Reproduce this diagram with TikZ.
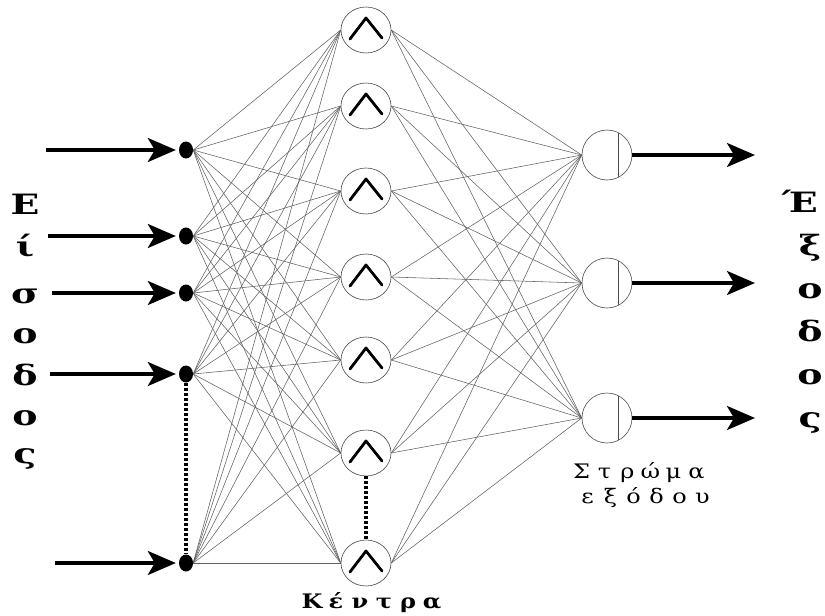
\documentclass[tikz,border=0pt]{standalone}
\usepackage{fontspec}
\usepackage{graphicx}
\setmainfont{DejaVu Serif}
\newfontfamily\slabfam{DejaVu Serif}
\usetikzlibrary{arrows.meta,shapes.geometric}

% widened glyphs: big letters of the side words and spaced caption letters
\newcommand\wide[1]{\scalebox{1.35}[1]{#1}}
\newcommand\cell[1]{\makebox[23pt][c]{\scalebox{1.2}[1]{#1}}}
\newcommand\wcell[1]{\makebox[24pt][c]{\scalebox{1.2}[1]{#1}}}

\begin{document}
\begin{tikzpicture}[x=1pt,y=-1pt,
  dotnode/.style={ellipse,fill=black,minimum width=14pt,minimum height=17pt,inner sep=0pt},
  hidnode/.style={ellipse,draw=black!70,fill=white,line width=0.6pt,minimum width=50pt,minimum height=46pt,inner sep=0pt},
  outnode/.style={circle,draw=black!70,fill=white,line width=0.6pt,minimum size=50pt,inner sep=0pt},
  link/.style={draw=black!62,line width=0.55pt},
  bigarrow/.style={line width=3.4pt,-{Stealth[length=28pt,width=24pt,inset=7pt]}},
  hat/.style={line width=2.8pt,line join=round,line cap=round},
  dotline/.style={line width=3.6pt,dash pattern=on 3pt off 2pt},
  bigletter/.style={font=\slabfam\bfseries\fontsize{28}{28}\selectfont,inner sep=0pt,anchor=base},
  caption/.style={font=\slabfam\fontsize{20}{20}\selectfont,inner sep=0pt,anchor=base},
]
\useasboundingbox (0,0) rectangle (825,616);

% input layer
\node[dotnode] (i1) at (186,150) {};
\node[dotnode] (i2) at (186,236) {};
\node[dotnode] (i3) at (186,293) {};
\node[dotnode] (i4) at (186,374) {};
\node[dotnode] (i5) at (186,563) {};

% radial centres
\foreach \k/\yy in {1/30,2/106,3/191,4/277,5/360,6/453,7/563}
  \node[hidnode] (h\k) at (366,\yy) {};

% output layer
\node[outnode] (o1) at (607,155) {};
\node[outnode] (o2) at (607,283) {};
\node[outnode] (o3) at (607,418) {};

% full connections between layers
\foreach \a in {1,...,5}
  \foreach \b in {1,...,7}
    \draw[link] (i\a.east) -- (h\b.west);
\foreach \b in {1,...,7}
  \foreach \c in {1,...,3}
    \draw[link] (h\b.east) -- (o\c.west);

% hat symbol in every centre
\foreach \k in {1,...,7}
  \draw[hat] (h\k.center) ++(-16,9) -- ++(16,-21) -- ++(16,20);

% chord inside the output units
\foreach \c in {1,2,3}
  \draw[draw=black!70,line width=0.6pt] (o\c.center) ++(11,-22.4) -- ++(0,44.8);

% omitted units
\draw[dotline] (i4.south) -- (i5.north);
\draw[dotline] (h6.south) -- (h7.north);

% input arrows
\coordinate (s1) at (46,150);
\coordinate (s2) at (48,236);
\coordinate (s3) at (52,293);
\coordinate (s4) at (50,374);
\coordinate (s5) at (55,563);
\foreach \a in {1,...,5}
  \draw[bigarrow,shorten >=3pt] (s\a) -- (i\a.west);

% output arrows
\coordinate (e1) at (755,155);
\coordinate (e2) at (755,283);
\coordinate (e3) at (755,418);
\foreach \c in {1,2,3}
  \draw[bigarrow] (o\c.east) -- (e\c);

% vertical word on the left
\node[bigletter] (l1) at (25,214) {\wide{Ε}};
\node[bigletter] (l2) at (25,256) {\wide{ί}};
\node[bigletter] (l3) at (25,303) {\wide{σ}};
\node[bigletter] (l4) at (25,343) {\wide{ο}};
\node[bigletter] (l5) at (25,385) {\wide{δ}};
\node[bigletter] (l6) at (25,425) {\wide{ο}};
\node[bigletter] (l7) at (25,463) {\wide{ς}};

% vertical word on the right
\node[bigletter] (r1) at (800,212) {\wide{Έ}};
\node[bigletter] (r2) at (810,255) {\wide{ξ}};
\node[bigletter] (r3) at (810,298) {\wide{ο}};
\node[bigletter] (r4) at (810,341) {\wide{δ}};
\node[bigletter] (r5) at (810,384) {\wide{ο}};
\node[bigletter] (r6) at (810,427) {\wide{ς}};

% layer captions
\node[caption] (c1) at (639,478) {\cell{Σ}\cell{τ}\cell{ρ}\cell{ώ}\cell{μ}\cell{α}};
\node[caption] (c2) at (645,503) {\cell{ε}\cell{ξ}\cell{ό}\cell{δ}\cell{ο}\cell{υ}};
\node[caption,font=\slabfam\bfseries\fontsize{20}{20}\selectfont] (c3) at (372,608) {\wcell{Κ}\wcell{έ}\wcell{ν}\wcell{τ}\wcell{ρ}\wcell{α}};
\end{tikzpicture}
\end{document}
